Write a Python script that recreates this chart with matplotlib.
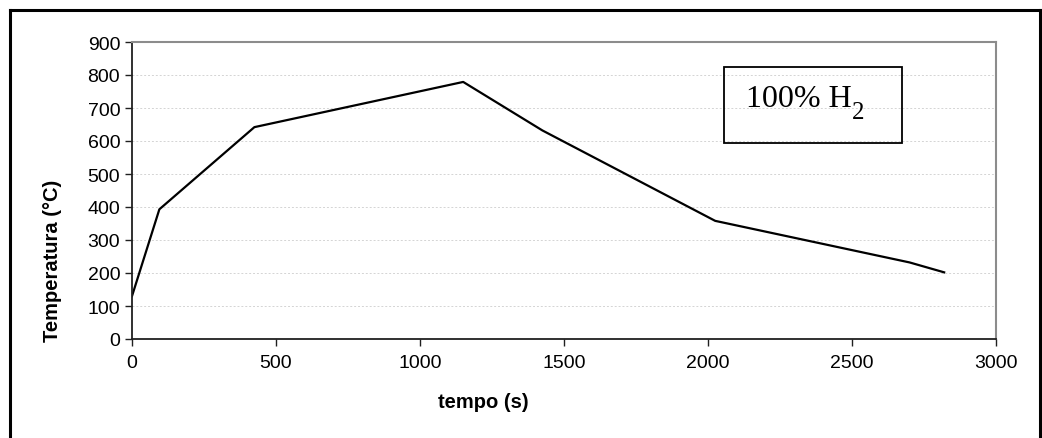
import numpy as np
import matplotlib.pyplot as plt
from matplotlib.lines import Line2D

# data
tempo = [0, 95, 425, 1150, 1425, 2025, 2700, 2820]
temperatura = [130, 393, 642, 779, 632, 358, 232, 202]
x_ticks = [0, 500, 1000, 1500, 2000, 2500, 3000]
y_ticks = [0, 100, 200, 300, 400, 500, 600, 700, 800, 900]

W, H = 1042, 439
fig = plt.figure(figsize=(W / 100, H / 100), dpi=100)
ax = fig.add_axes([132 / W, 1 - 340 / H, (996 - 132) / W, (340 - 43) / H])

ax.plot(tempo, temperatura, color='black', lw=1.6)

ax.set_xlim(0, 3000)
ax.set_ylim(0, 900)
ax.set_xticks(x_ticks)
ax.set_yticks(y_ticks)
ax.grid(axis='y', color='#d4d4d4', ls=(0, (2, 2)), lw=0.7)
ax.set_axisbelow(True)

for s in ['top', 'right']:
    ax.spines[s].set_color('#8c8c8c')
    ax.spines[s].set_linewidth(1.5)
for s in ['left', 'bottom']:
    ax.spines[s].set_color('#202020')
    ax.spines[s].set_linewidth(1.3)

ax.tick_params(axis='both', direction='out', length=5, width=1, colors='#202020',
               labelsize=14, labelcolor='black')
ax.tick_params(axis='x', pad=6)
for lab in ax.get_xticklabels() + ax.get_yticklabels():
    lab.set_fontfamily('Liberation Sans')

# labels placed like in the original
fig.text(483 / W, 1 - 403 / H, 'tempo (s)', ha='center', va='center',
         fontsize=14.5, fontweight='bold', family='Liberation Sans')
fig.text(53 / W, 1 - 261 / H, 'Temperatura (°C)', ha='center', va='center',
         rotation=90, fontsize=14.5, fontweight='bold', family='Liberation Sans')

# annotation box, subscript drawn as its own text (large, low like the original)
box = plt.Rectangle((724 / W, 1 - 144 / H), (902 - 724) / W, (144 - 68) / H,
                    transform=fig.transFigure, fill=False, ec='black', lw=1.3)
fig.patches.append(box)
main = fig.text(746 / W, 1 - 107 / H, '100% H', ha='left', va='baseline',
                fontsize=23, family='Liberation Serif')
ax.annotate('2', xy=(1, 0), xycoords=main,
            xytext=(0, -7), textcoords='offset points',
            ha='left', va='bottom', annotation_clip=False,
            fontsize=18, family='Liberation Serif')

# outer frame
lw = 2.2
fig.add_artist(Line2D([9.5 / W, 9.5 / W], [0, 1 - 11 / H], color='black', lw=lw))
fig.add_artist(Line2D([9.5 / W, 1040 / W], [1 - 11 / H, 1 - 11 / H], color='black', lw=lw))
fig.add_artist(Line2D([1040 / W, 1040 / W], [0, 1 - 11 / H], color='black', lw=lw))

fig.savefig('out.png', dpi=100)
